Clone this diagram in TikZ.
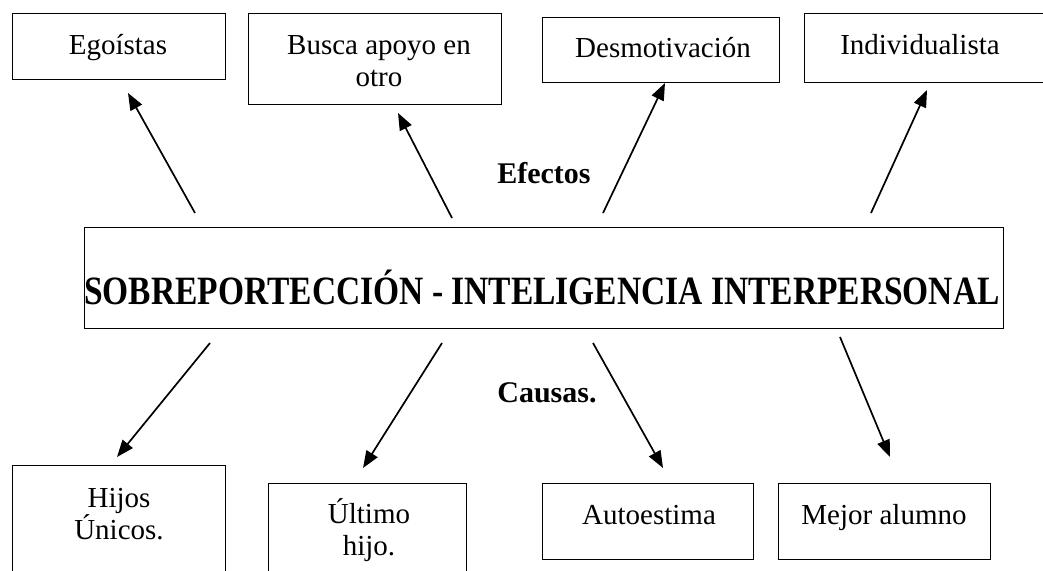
\documentclass[tikz,border=0pt]{standalone}
\usepackage{fontspec}
\setmainfont{Liberation Serif}
\usetikzlibrary{arrows.meta}
\begin{document}
\begin{tikzpicture}[x=1pt,y=-1pt,
  box/.style={draw, line width=1pt, inner sep=0pt, anchor=north west},
  txt/.style={font=\fontsize{29}{32}\selectfont, align=center, anchor=base, inner sep=0pt},
  head/.style={font=\bfseries\fontsize{30}{34}\selectfont, anchor=base, inner sep=0pt},
  arr/.style={line width=1.7pt, -{Triangle[length=17pt,width=13pt]}}]
\useasboundingbox (0,0) rectangle (1043,570);
\clip (0,0) rectangle (1043,570);
% effect boxes
\node[box, minimum width=213pt, minimum height=66pt] (ego) at (12,13) {};
\node[box, minimum width=253pt, minimum height=91pt] (busca) at (248,13) {};
\node[box, minimum width=237pt, minimum height=65pt] (desm) at (542,17) {};
\node[box, minimum width=250pt, minimum height=69pt] (indiv) at (804,13) {};
% multi-line labels: base anchor is the last line
\node[txt] (ego-t) at (118,54) {Egoístas};
\node[txt] (busca-t) at (379,86) {Busca apoyo en\\otro};
\node[txt] (desm-t) at (663,57) {Desmotivación};
\node[txt] (indiv-t) at (920,54) {Individualista};
% central
\node[box, line width=1.2pt, minimum width=919pt, minimum height=101pt] (central) at (84,227) {};
\node[font=\bfseries\fontsize{33.5}{38}\selectfont, anchor=base, inner sep=0pt] (central-t) at (542,304) {\scalebox{1}[1.2]{SOBREPORTECCIÓN - INTELIGENCIA INTERPERSONAL}};
\node[head] (efectos) at (544,183) {Efectos};
\node[head] (causas) at (547,402) {Causas.};
% cause boxes
\node[box, minimum width=213pt, minimum height=120pt] (hijos) at (12,465) {};
\node[box, minimum width=198pt, minimum height=100pt] (ultimo) at (268,483) {};
\node[box, minimum width=211pt, minimum height=76pt] (auto) at (542,483) {};
\node[box, minimum width=212pt, minimum height=76pt] (mejor) at (778,483) {};
\node[txt] (hijos-t) at (119,539) {Hijos\\Únicos.};
\node[txt] (ultimo-t) at (369,555) {Último\\hijo.};
\node[txt] (auto-t) at (649,524) {Autoestima};
\node[txt] (mejor-t) at (884,524) {Mejor alumno};
% arrow ends
\coordinate (e1s) at (195,213); \coordinate (e1e) at (128,93);
\coordinate (e2s) at (452,218); \coordinate (e2e) at (398,113);
\coordinate (e3s) at (603,213); \coordinate (e3e) at (665,83);
\coordinate (e4s) at (871,213); \coordinate (e4e) at (927,90);
\coordinate (c1s) at (210,343); \coordinate (c1e) at (117,457);
\coordinate (c2s) at (442,343); \coordinate (c2e) at (363,468);
\coordinate (c3s) at (593,343); \coordinate (c3e) at (663,468);
\coordinate (c4s) at (840,337); \coordinate (c4e) at (890,457);
\draw[arr] (e1s) -- (e1e);
\draw[arr] (e2s) -- (e2e);
\draw[arr] (e3s) -- (e3e);
\draw[arr] (e4s) -- (e4e);
\draw[arr] (c1s) -- (c1e);
\draw[arr] (c2s) -- (c2e);
\draw[arr] (c3s) -- (c3e);
\draw[arr] (c4s) -- (c4e);
\end{tikzpicture}
\end{document}
